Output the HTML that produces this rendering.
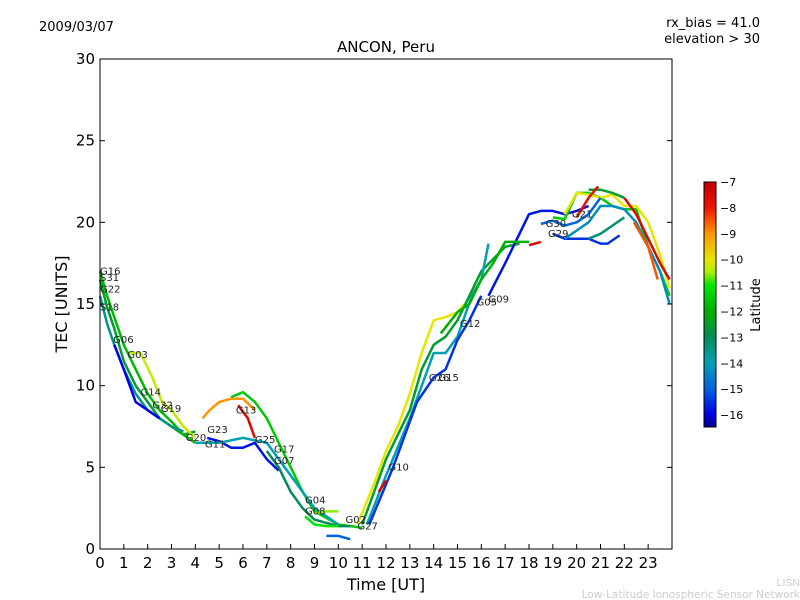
<!DOCTYPE html>
<html><head><meta charset="utf-8"><style>
body{margin:0;background:#fff;}
svg{display:block;font-family:"DejaVu Sans","Liberation Sans",sans-serif;}
</style></head><body>
<svg id="chart" width="800" height="600" viewBox="0 0 800 600">
<defs>
<linearGradient id="jet" x1="0" y1="0" x2="0" y2="1"></linearGradient>
</defs>
<text x="39" y="31" font-size="13">2009/03/07</text>
<text x="760" y="27" font-size="13" text-anchor="end">rx_bias = 41.0</text>
<text x="760" y="43" font-size="13" text-anchor="end">elevation &gt; 30</text>
<text x="386" y="52" font-size="15" text-anchor="middle">ANCON, Peru</text>
<g id="series"></g>
<g id="labels"></g>
<rect x="100" y="59" width="572" height="490" fill="none" stroke="#000"/>
<g id="axes"></g>
<text x="386" y="590" font-size="16" text-anchor="middle">Time [UT]</text>
<text x="67" y="304" font-size="16" text-anchor="middle" transform="rotate(-90 67 304)">TEC [UNITS]</text>
<rect x="704" y="182" width="12" height="245" fill="url(#jet)" stroke="#000"/>
<g id="cbticks"></g>
<text x="760" y="305" font-size="13" text-anchor="middle" transform="rotate(-90 760 305)">Latitude</text>
<text x="800" y="586" font-size="10" fill="#ccc" text-anchor="end" font-family="Liberation Sans, sans-serif" style="font-size:10.5px">LISN</text>
<text x="800" y="598" fill="#ccc" text-anchor="end" style="font-size:10.5px">Low-Latitude Ionospheric Sensor Network</text>
</svg>
<script>
const xTicks=[0,1,2,3,4,5,6,7,8,9,10,11,12,13,14,15,16,17,18,19,20,21,22,23];
const yTicks=[0,5,10,15,20,25,30];
const cbTicks=[-7,-8,-9,-10,-11,-12,-13,-14,-15,-16];
const s01=[[0,16.5],[0.3,14.8],[0.6,13.5],[1,11.5],[1.5,10],[2,9],[2.5,8],[3,7.5],[3.5,7],[4,7.2]];
const s02=[[0,17],[0.3,15.5],[0.6,14.2],[1,12.5],[1.5,11],[2,9.5],[2.5,8.5],[3,7.8],[3.5,7],[4,6.5]];
const s03=[[0,15.5],[0.3,13.8],[0.6,12.5],[1,11],[1.5,9.5],[2,8.5],[2.5,8],[3,7.5],[3.5,7.2]];
const s04=[[1.2,12],[1.7,12],[2.2,10.5],[2.6,9],[3,8.5],[3.5,7.5],[4,6.8]];
const s05=[[0.6,12.5],[1,11],[1.5,9],[2,8.5],[2.5,8]];
const s06=[[4.3,8],[4.6,8.5],[5,9],[5.5,9.2],[6,9.2],[6.5,8.5]];
const s07=[[5.5,9.3],[6,9.6],[6.5,9],[7,8],[7.5,6.5],[8,5],[8.5,3.5],[9,2.3],[10,1.5],[11,1.3]];
const s08=[[5.8,8.8],[6.2,8],[6.5,6.8]];
const s09=[[4.5,6.8],[5,6.6],[5.5,6.2],[6,6.2],[6.5,6.5],[7,5.5],[7.5,4.8]];
const s10=[[4,6.5],[5,6.5],[6,6.8],[7,6.5],[8,4.5],[8.5,3.5],[9,2.5],[9.5,2],[10,1.5]];
const s11=[[7,6],[7.5,5],[8,3.5],[8.5,2.5],[9,1.8],[9.5,1.6],[10,1.4],[10.5,1.4]];
const s12=[[8.6,2],[9,1.5],[9.5,1.4],[10,1.4]];
const s13=[[9.5,0.8],[10,0.8],[10.5,0.6]];
const s14=[[10.8,1.5],[11.5,4],[12,6],[12.5,7.5],[13,9.5],[13.5,12],[14,14],[14.5,14.2],[15,14.5],[15.3,15]];
const s15=[[11,1.5],[12,5.5],[13,8.5],[13.5,11],[14,12.5],[14.5,13],[15,14],[16,17],[17,18.5],[17.6,18.7]];
const s16=[[11.2,1.5],[12,4.5],[13,8],[14,12],[14.5,12],[15,13],[15.6,15.5],[16,16.5],[16.3,18.7]];
const s17=[[11.3,1.5],[12.3,5],[13.3,9],[14,10.5],[14.5,11],[15,12.8],[15.5,14],[16,15.5]];
const s18=[[16.3,15.5],[17,17.5],[17.5,19],[18,20.5],[18.5,20.7],[19,20.7],[19.5,20.5],[20,20.7],[20.5,21]];
const s19=[[14.3,13.2],[15,14.5],[15.5,15],[16,16.5],[16.5,17.5],[17,18.8],[17.5,18.8],[18,18.8]];
const s20=[[19,20.3],[19.5,20.2],[20,21.8],[20.5,21.8],[21,21.5],[21.5,21],[22,20.8],[22.5,20.8],[23,18.5],[23.5,17],[23.9,15.5]];
const s21=[[19.5,20.5],[20,21.8],[20.5,21.7],[21,21.5],[21.5,21.7],[22,21],[22.5,21],[23,20],[23.5,18],[23.9,16]];
const s22=[[19,19.3],[19.5,19],[20,19],[20.5,19],[21,18.7],[21.3,18.7],[21.8,19.2]];
const s23=[[19.5,19],[20,19.5],[20.5,20],[21,21],[21.5,21],[22,20.8],[22.5,20],[23,18.5],[23.5,17],[23.9,15]];
const s24=[[22,21.5],[22.5,20.5],[23,19],[23.5,17.5],[23.9,16.5]];
const s25=[[22.4,20],[23,18.5],[23.4,16.5]];
const s26=[[20.5,22],[21,22],[21.5,21.8],[22,21.5]];
const s27=[[18,18.6],[18.5,18.8]];
const s28=[[12,4.2],[11.7,3.5]];
const s29=[[9,2.2],[9.5,2.3],[10,2.3]];
const s30=[[18.5,19.9],[19,20.1],[19.5,19.8],[20,20],[20.5,20.5],[21,21.5]];
const s31=[[20.5,19],[21,19.3],[21.5,19.8],[22,20.3]];
const s32=[[20,20.3],[20.5,21.5],[20.9,22.2]];
const seriesData=[s01,s02,s03,s04,s05,s06,s07,s08,s09,s10,s11,s12,s13,s14,s15,s16,s17,s18,s19,s20,s21,s22,s23,s24,s25,s26,s27,s28,s29,s30,s31,s32];
const seriesLat=[-12.5,-11.8,-13.5,-10.3,-16,-9,-11.5,-7.5,-15.8,-14,-13,-11,-15,-10,-12.5,-14,-15.5,-15.8,-12,-11.5,-10,-15.5,-14.3,-7.5,-8.5,-12.5,-7.5,-7.5,-10.6,-15,-13.3,-7.8];
const labelNames=["G16","S31","G22","S18","G06","G03","G14","G32","G19","G13","G23","G20","G11","G25","G17","G07","G04","G08","G02","G27","G10","G26","G15","G12","G05","G09","G30","G29","G21"];
const labelT=[0,0,0,0,0.55,1.15,1.7,2.2,2.55,5.7,4.5,3.6,4.4,6.5,7.3,7.3,8.6,8.6,10.3,10.8,12.1,13.8,14.2,15.1,15.8,16.3,18.7,18.8,19.8];
const labelV=[16.8,16.4,15.7,14.6,12.6,11.7,9.4,8.6,8.4,8.3,7.1,6.6,6.2,6.5,5.9,5.2,2.8,2.1,1.6,1.2,4.8,10.3,10.3,13.6,14.9,15.1,19.7,19.1,20.3];
const cmapLat=[-7,-8,-9,-10,-10.5,-11,-12,-13,-14,-15,-16,-16.5];
const cmapCol=[[192,0,0],[240,20,0],[255,150,0],[230,230,0],[170,240,0],[0,230,0],[0,175,0],[0,140,90],[0,160,180],[0,100,220],[0,0,230],[0,0,140]];
const X=h=>100+h*23.833, Y=v=>549-v*16.333;
const ns="http://www.w3.org/2000/svg";
function cmap(lat){
 if(lat>=cmapLat[0])return `rgb(${cmapCol[0]})`;
 for(let i=0;i<cmapLat.length-1;i++){if(lat<=cmapLat[i]&&lat>=cmapLat[i+1]){
  const t=(cmapLat[i]-lat)/(cmapLat[i]-cmapLat[i+1]);
  const c=cmapCol[i].map((a,k)=>Math.round(a+(cmapCol[i+1][k]-a)*t));return `rgb(${c})`;}}
 return `rgb(${cmapCol[cmapCol.length-1]})`;}
const grad=document.getElementById('jet');
cmapLat.forEach((l,i)=>{const s=document.createElementNS(ns,'stop');
 s.setAttribute('offset',((-7-l)/9.5).toFixed(3));s.setAttribute('stop-color',`rgb(${cmapCol[i]})`);grad.appendChild(s);});
const sg=document.getElementById('series');
seriesData.forEach((s,i)=>{const p=document.createElementNS(ns,'polyline');
 p.setAttribute('points',s.map(d=>X(d[0]).toFixed(1)+','+Y(d[1]).toFixed(1)).join(' '));
 p.setAttribute('fill','none');p.setAttribute('stroke',cmap(seriesLat[i]));p.setAttribute('stroke-width','2.5');
 p.setAttribute('stroke-linejoin','round');
 
 
 sg.appendChild(p);});
const lg=document.getElementById('labels');
labelNames.forEach((n,i)=>{const t=document.createElementNS(ns,'text');
 t.setAttribute('x',X(labelT[i]));t.setAttribute('y',Y(labelV[i]));t.setAttribute('font-size','10');t.setAttribute('fill','#222');t.textContent=n;
 
 
 lg.appendChild(t);});
const ax=document.getElementById('axes');
xTicks.forEach(h=>{const l=document.createElementNS(ns,'line');
 l.setAttribute('x1',X(h));l.setAttribute('x2',X(h));l.setAttribute('y1',549);l.setAttribute('y2',544);l.setAttribute('stroke','#000');
 
 
 ax.appendChild(l);
 const t=document.createElementNS(ns,'text');t.setAttribute('x',X(h));t.setAttribute('y',568);t.setAttribute('font-size','15');t.setAttribute('text-anchor','middle');t.textContent=h;
 
 
 ax.appendChild(t);});
yTicks.forEach(v=>{const l=document.createElementNS(ns,'line');
 l.setAttribute('x1',100);l.setAttribute('x2',105);l.setAttribute('y1',Y(v));l.setAttribute('y2',Y(v));l.setAttribute('stroke','#000');
 
 
 ax.appendChild(l);
 const l2=document.createElementNS(ns,'line');
 l2.setAttribute('x1',667);l2.setAttribute('x2',672);l2.setAttribute('y1',Y(v));l2.setAttribute('y2',Y(v));l2.setAttribute('stroke','#000');
 
 
 ax.appendChild(l2);
 const t=document.createElementNS(ns,'text');t.setAttribute('x',95);t.setAttribute('y',Y(v)+5);t.setAttribute('font-size','15');t.setAttribute('text-anchor','end');t.textContent=v;
 
 
 ax.appendChild(t);});
const cb=document.getElementById('cbticks');
cbTicks.forEach(v=>{const y=182+(-7-v)*25.9;
 const t=document.createElementNS(ns,'text');t.setAttribute('x',720);t.setAttribute('y',y+4);t.setAttribute('font-size','11');t.textContent='\u2212'+Math.abs(v);
 
 
 cb.appendChild(t);});
</script>
</body></html>
